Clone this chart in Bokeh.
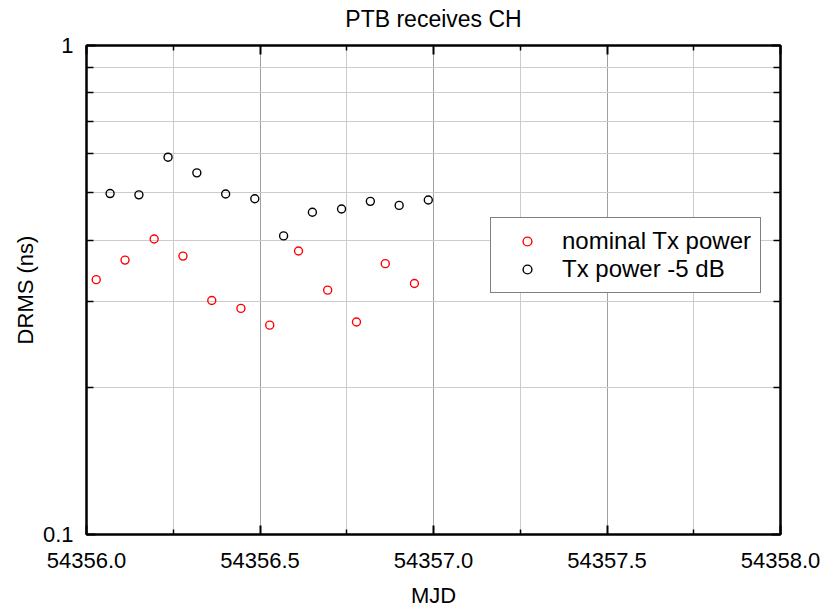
from bokeh.plotting import figure
from bokeh.models import (FixedTicker, LinearAxis, LogAxis, PrintfTickFormatter,
                          CustomJSTickFormatter, Legend, LegendItem, Range1d)
from bokeh.embed import file_html
from bokeh.resources import INLINE

# ---- data -------------------------------------------------------------
title_text = "PTB receives CH"
x_label = "MJD"
y_label = "DRMS (ns)"

x_ticks = [54356.0, 54356.5, 54357.0, 54357.5, 54358.0]
x_minor_ticks = [54356.25, 54356.75, 54357.25, 54357.75]
y_ticks = [0.1, 1.0]
y_minor_ticks = [0.2, 0.3, 0.4, 0.5, 0.6, 0.7, 0.8, 0.9]

series_names = ["nominal Tx power", "Tx power -5 dB"]

nominal_mjd = [54356.028, 54356.111, 54356.195, 54356.278, 54356.361, 54356.445,
               54356.528, 54356.611, 54356.695, 54356.778, 54356.861, 54356.945]
nominal_drms = [0.332, 0.364, 0.402, 0.371, 0.301, 0.290,
                0.268, 0.380, 0.316, 0.272, 0.358, 0.326]

reduced_mjd = [54356.068, 54356.151, 54356.235, 54356.318, 54356.401, 54356.485,
               54356.568, 54356.651, 54356.735, 54356.818, 54356.901, 54356.985]
reduced_drms = [0.498, 0.495, 0.591, 0.549, 0.497, 0.486,
                0.408, 0.456, 0.463, 0.480, 0.471, 0.483]

# ---- figure -----------------------------------------------------------
FONT = "Liberation Sans"
FS = "22px"

p = figure(width=824, height=610,
           x_range=Range1d(54356.0, 54358.0), y_range=Range1d(0.1, 1.0),
           y_axis_type="log", output_backend="svg", toolbar_location=None,
           min_border_left=86, min_border_right=44,
           min_border_top=45, min_border_bottom=74)
p.background_fill_color = "white"
p.border_fill_color = "white"
p.outline_line_color = "black"
p.outline_line_width = 2
p.title.text = ""


def style_axis(ax, major_in, minor_in, show_labels):
    ax.axis_line_color = "black"
    ax.axis_line_width = 2
    ax.major_tick_line_color = "black"
    ax.minor_tick_line_color = "black"
    ax.major_tick_line_width = 2
    ax.minor_tick_line_width = 1.5
    ax.major_tick_in = major_in
    ax.major_tick_out = 0
    ax.minor_tick_in = minor_in
    ax.minor_tick_out = 0
    ax.major_label_text_font = FONT
    ax.major_label_text_color = "black"
    ax.axis_label_text_font = FONT
    ax.axis_label_text_font_size = FS
    ax.axis_label_text_font_style = "normal"
    ax.axis_label_text_color = "black"
    if show_labels:
        ax.major_label_text_font_size = FS
    else:
        ax.major_label_text_font_size = "0px"
        ax.major_label_standoff = 0


xb = p.xaxis[0]
xb.ticker = FixedTicker(ticks=x_ticks, minor_ticks=x_minor_ticks)
xb.formatter = PrintfTickFormatter(format="%.1f")
style_axis(xb, 9, 5, True)
xb.major_label_standoff = 18
xb.axis_label = x_label
xb.axis_label_standoff = 12

yl = p.yaxis[0]
yl.ticker = FixedTicker(ticks=y_ticks, minor_ticks=y_minor_ticks)
yl.formatter = CustomJSTickFormatter(code="return tick.toString();")
style_axis(yl, 9, 7, True)
yl.major_label_standoff = 13
yl.axis_label = y_label
yl.axis_label_standoff = 2

# top axis: carries the chart title as its label
xt = LinearAxis(ticker=FixedTicker(ticks=x_ticks, minor_ticks=x_minor_ticks),
                formatter=CustomJSTickFormatter(code="return '';"))
style_axis(xt, 9, 5, False)
xt.axis_label = title_text
xt.axis_label_text_font_size = "23px"
xt.axis_label_standoff = 14
p.add_layout(xt, "above")

yr = LogAxis(ticker=FixedTicker(ticks=y_ticks, minor_ticks=y_minor_ticks),
             formatter=CustomJSTickFormatter(code="return '';"))
style_axis(yr, 9, 7, False)
p.add_layout(yr, "right")

# grids
p.xgrid.ticker = FixedTicker(ticks=x_ticks, minor_ticks=x_minor_ticks)
p.xgrid.grid_line_color = "#a0a0a0"
p.xgrid.grid_line_width = 1
p.xgrid.minor_grid_line_color = "#cccccc"
p.xgrid.minor_grid_line_width = 1
p.ygrid.ticker = FixedTicker(ticks=y_minor_ticks)
p.ygrid.grid_line_color = "#cccccc"
p.ygrid.grid_line_width = 1

# data
r_nom = p.scatter(nominal_mjd, nominal_drms, marker="circle", size=8,
                  fill_color=None, line_color="#ff0000", line_width=1.4)
r_red = p.scatter(reduced_mjd, reduced_drms, marker="circle", size=8,
                  fill_color=None, line_color="black", line_width=1.4)

legend = Legend(items=[LegendItem(label=series_names[0], renderers=[r_nom]),
                       LegendItem(label=series_names[1], renderers=[r_red])],
                location=(404, 241))
legend.border_line_color = "black"
legend.border_line_width = 1
legend.background_fill_color = "white"
legend.background_fill_alpha = 1
legend.label_text_font = FONT
legend.label_text_font_size = "24px"
legend.label_text_color = "black"
legend.padding = 9
legend.spacing = 0
legend.glyph_width = 54
legend.glyph_height = 22
legend.label_height = 27
legend.label_standoff = 8
legend.margin = 0
p.add_layout(legend, "center")

open("out.html", "w").write(file_html(p, INLINE))
